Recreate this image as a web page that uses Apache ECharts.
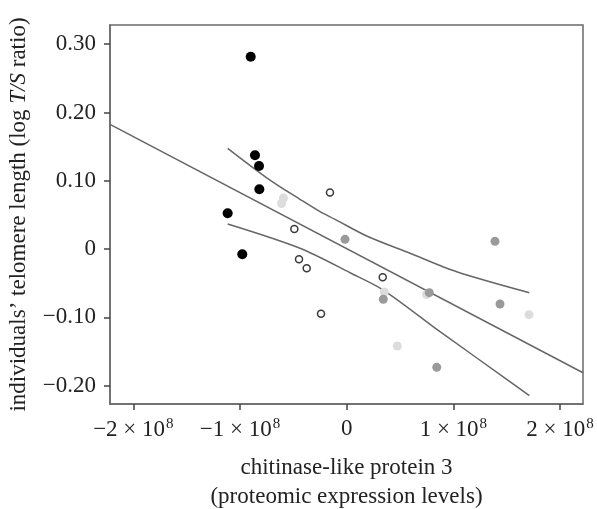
<!DOCTYPE html>
<html>
<head>
<meta charset="utf-8">
<script src="https://cdn.jsdelivr.net/npm/echarts@6/dist/echarts.min.js"></script>
<style>
html,body{margin:0;padding:0;background:#fff;}
#chart{width:597px;height:509px;}
</style>
</head>
<body>
<div id="chart"></div>
<script>
// x values in units of 1e8
var blackX = [-0.900, -0.860, -0.822, -0.819, -1.116, -0.979];
var blackY = [0.2817, 0.1373, 0.1217, 0.0876, 0.0524, -0.0076];
var openX = [-0.157, -0.491, -0.447, -0.375, -0.241, 0.3375];
var openY = [0.0829, 0.0294, -0.0149, -0.0281, -0.0946, -0.0413];
var lightX = [-0.593, -0.611, 0.352, 0.748, 0.474, 1.709];
var lightY = [0.0748, 0.0668, -0.0628, -0.0665, -0.1419, -0.0960];
var grayX = [-0.016, 0.343, 0.774, 1.390, 1.437, 0.844];
var grayY = [0.0143, -0.0735, -0.0638, 0.0114, -0.0804, -0.1731];
var fitX = [-2.219, 2.215];
var fitY = [0.1827, -0.1810];
var ciUpperX = [-1.116, -0.719, -0.438, -0.250, -0.110, 0.1875, 0.593, 1.031, 1.712];
var ciUpperY = [0.1476, 0.1010, 0.0729, 0.0548, 0.0436, 0.0192, -0.0061, -0.0331, -0.0638];
var ciLowerX = [-1.116, -0.438, 0.031, 0.343, 0.875, 1.500, 1.712];
var ciLowerY = [0.0367, 0.0012, -0.0346, -0.0599, -0.1209, -0.1906, -0.2146];
var xTicks = [-2, -1, 0, 1, 2];
var xTickLabels = ['−2 × 10', '−1 × 10', '0', '1 × 10', '2 × 10'];
var yTicks = [-0.2, -0.1, 0, 0.1, 0.2, 0.3];
var yTickLabels = ['−0.20', '−0.10', '0', '0.10', '0.20', '0.30'];

function pairs(xs, ys){ return xs.map(function(x,i){ return [x, ys[i]]; }); }

var FONT = '"Liberation Serif", "Times New Roman", serif';
var FS = 23;
var axisColor = '#6a6a6a';
var chart = echarts.init(document.getElementById('chart'), null, {renderer:'canvas'});
chart.setOption({
  animation: false,
  backgroundColor: '#fff',
  grid: {left:110, top:25, right:14, bottom:105, containLabel:false, outerBoundsMode:'none',
         show:true, borderColor:axisColor, borderWidth:1.5, backgroundColor:'transparent'},
  xAxis: {
    type:'value', min:-2.219, max:2.215,
    axisLine:{show:true, onZero:false, lineStyle:{color:axisColor, width:1.5}},
    axisTick:{show:true, customValues:xTicks, length:6, lineStyle:{color:'#444', width:1.5}},
    splitLine:{show:false},
    axisLabel:{
      customValues:xTicks, margin:13,
      formatter:function(v){
        var i = xTicks.indexOf(Math.round(v));
        if (Math.round(v) === 0) return '{m|0}';
        return '{m|' + xTickLabels[i] + '}{s|8}';
      },
      rich:{
        m:{fontFamily:FONT, fontSize:FS, color:'#222', verticalAlign:'bottom'},
        s:{fontFamily:FONT, fontSize:15, color:'#222', verticalAlign:'top', padding:[0,0,9,1]}
      }
    },
    name:'chitinase-like protein 3\n(proteomic expression levels)',
    nameLocation:'middle', nameGap:49,
    nameTextStyle:{fontFamily:FONT, fontSize:FS, color:'#222', lineHeight:29}
  },
  yAxis: {
    type:'value', min:-0.2268, max:0.3281,
    axisLine:{show:true, onZero:false, lineStyle:{color:axisColor, width:1.5}},
    axisTick:{show:true, customValues:yTicks, length:6, lineStyle:{color:'#444', width:1.5}},
    splitLine:{show:false},
    axisLabel:{
      customValues:yTicks, margin:14,
      fontFamily:FONT, fontSize:FS, color:'#222',
      formatter:function(v){
        var best = 0, d = 1e9;
        yTicks.forEach(function(t,i){ if (Math.abs(t-v) < d){ d = Math.abs(t-v); best = i; } });
        return yTickLabels[best];
      }
    },
    name:'{n|individuals’ telomere length (log }{i|T/S}{n| ratio)}',
    nameLocation:'middle', nameGap:80,
    nameTextStyle:{
      rich:{
        n:{fontFamily:FONT, fontSize:FS, color:'#222'},
        i:{fontFamily:FONT, fontSize:FS, color:'#222', fontStyle:'italic'}
      }
    }
  },
  series: [
    {type:'line', data:pairs(fitX, fitY), symbol:'none', lineStyle:{color:'#666', width:1.5}, z:1},
    {type:'line', data:pairs(ciUpperX, ciUpperY), symbol:'none', smooth:0.3, lineStyle:{color:'#666', width:1.5}, z:1},
    {type:'line', data:pairs(ciLowerX, ciLowerY), symbol:'none', smooth:0.3, lineStyle:{color:'#666', width:1.5}, z:1},
    {type:'scatter', data:pairs(lightX, lightY), symbolSize:9, itemStyle:{color:'#dcdcdc', opacity:1}, z:2},
    {type:'scatter', data:pairs(grayX, grayY), symbolSize:9, itemStyle:{color:'#9a9a9a', opacity:1}, z:3},
    {type:'scatter', data:pairs(openX, openY), symbolSize:7, itemStyle:{color:'#fff', borderColor:'#3a3a3a', borderWidth:1.5, opacity:1}, z:4},
    {type:'scatter', data:pairs(blackX, blackY), symbolSize:10, itemStyle:{color:'#000', opacity:1}, z:5}
  ]
});
</script>
</body>
</html>
